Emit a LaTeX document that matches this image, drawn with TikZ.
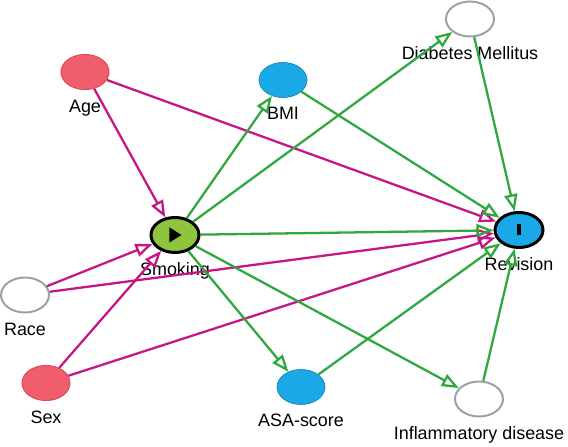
\documentclass[tikz,border=0pt]{standalone}
\usepackage{fontspec}
\setmainfont{Liberation Sans}
\usepackage{xcolor}
\usetikzlibrary{arrows.meta,positioning,shapes.geometric}

\definecolor{biaspink}{RGB}{199,21,133}
\definecolor{causalgreen}{RGB}{48,168,64}
\definecolor{adjred}{RGB}{240,94,110}
\definecolor{adjredline}{RGB}{226,72,90}
\definecolor{ancblue}{RGB}{26,168,230}
\definecolor{expgreen}{RGB}{142,196,62}
\definecolor{latgray}{RGB}{150,160,165}

\begin{document}
\begin{tikzpicture}[
  font=\fontsize{10.2}{12}\selectfont,
  >={Triangle[open,length=3.4mm,width=2.6mm]},
  var/.style={ellipse, draw, inner sep=0pt,
              minimum width=9.6mm, minimum height=7mm},
  adj/.style={var, fill=adjred, draw=adjredline, line width=0.6pt},
  anc/.style={var, fill=ancblue, draw=ancblue!80!black, line width=0.4pt},
  oth/.style={var, fill=white, draw=latgray, line width=1.1pt},
  key/.style={var, draw=black, line width=1.7pt},
  lab/.style={inner sep=0pt, text height=7.2pt, text depth=2pt},
  bias/.style={->, draw=biaspink, line width=1.3pt},
  causal/.style={->, draw=causalgreen, line width=1.3pt}
]
\useasboundingbox (0,0) rectangle (11.36,8.94);

% ---- variables ----
\node[adj] (age) at (1.70,7.50) {};
\node[anc] (bmi) at (5.66,7.34) {};
\node[oth] (dm)  at (9.40,8.56) {};
\node[key, fill=expgreen] (smk) at (3.50,4.24) {};
\node[key, fill=ancblue]  (rev) at (10.38,4.34) {};
\node[oth] (race) at (0.50,3.04) {};
\node[adj] (sex)  at (0.92,1.28) {};
\node[anc] (asa)  at (6.02,1.20) {};
\node[oth] (ibd)  at (9.58,0.96) {};

% ---- exposure / outcome marks ----
\fill ([shift={(-0.11,0.15)}]smk.center) -- ([shift={(0.13,0)}]smk.center)
      -- ([shift={(-0.11,-0.15)}]smk.center) -- cycle;
\fill ([shift={(-0.04,-0.11)}]rev.center) rectangle ([shift={(0.04,0.11)}]rev.center);

% ---- labels ----
\node[lab, below=1.8mm of age]  (age-l)  {Age};
\node[lab, below=1.8mm of bmi]  (bmi-l)  {BMI};
\node[lab, below=1.8mm of dm]   (dm-l)   {Diabetes Mellitus};
\node[lab, below=1.8mm of smk]  (smk-l)  {Smoking};
\node[lab, below=1.8mm of rev]  (rev-l)  {Revision};
\node[lab, below=1.8mm of race] (race-l) {Race};
\node[lab, below=1.8mm of sex]  (sex-l)  {Sex};
\node[lab, below=1.8mm of asa]  (asa-l)  {ASA-score};
\node[lab, below=1.8mm of ibd]  (ibd-l)  {Inflammatory disease};

% ---- biasing paths ----
\draw[bias] (age)  -- (smk);
\draw[bias] (age)  -- (rev);
\draw[bias] (race) -- (smk);
\draw[bias] (race) -- (rev);
\draw[bias] (sex)  -- (smk);
\draw[bias] (sex)  -- (rev);

% ---- causal paths ----
\draw[causal] (smk) -- (bmi);
\draw[causal] (smk) -- (dm);
\draw[causal] (smk) -- (rev);
\draw[causal] (smk) -- (asa);
\draw[causal] (smk) -- (ibd);
\draw[causal] (bmi) -- (rev);
\draw[causal] (dm)  -- (rev);
\draw[causal] (asa) -- (rev);
\draw[causal] (ibd) -- (rev);
\end{tikzpicture}
\end{document}
